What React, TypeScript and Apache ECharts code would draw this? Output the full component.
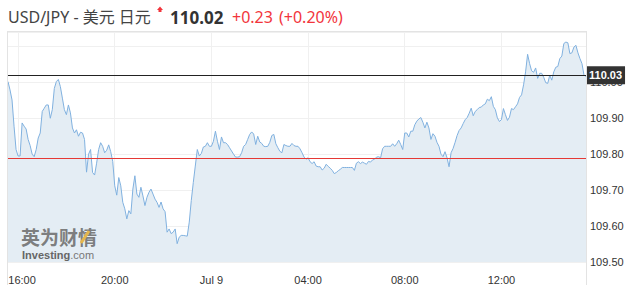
import React, { useEffect, useRef } from "react";
import * as echarts from "echarts";

// 5-minute USD/JPY quotes, Jul 8 15:35 -> Jul 9 15:30
const startMinute = 15 * 60 + 35;
const stepMinutes = 5;

const segA = [
  110.002, 109.979, 109.951, 109.878, 109.813, 109.795, 109.795, 109.887, 109.878, 109.870, 109.841, 109.824,
  109.800, 109.793, 109.813, 109.845, 109.859, 109.919, 109.928, 109.937, 109.937, 109.900, 109.924, 109.983,
  110.002, 110.008, 109.988, 109.956, 109.924, 109.910, 109.937, 109.915, 109.873, 109.859, 109.868, 109.850,
  109.861, 109.859, 109.841, 109.750, 109.800, 109.813, 109.749, 109.742, 109.775, 109.813, 109.832, 109.822,
];
const segB = [
  109.804, 109.811, 109.826, 109.807, 109.780, 109.712, 109.686, 109.735, 109.712, 109.666, 109.648, 109.620,
  109.643, 109.634, 109.703, 109.740, 109.689, 109.680, 109.708, 109.684, 109.657, 109.680, 109.694, 109.703,
  109.689, 109.675, 109.666, 109.652, 109.667, 109.648, 109.640, 109.583, 109.592, 109.579, 109.583, 109.592,
  109.551, 109.569, 109.574, 109.574, 109.573, 109.572, 109.611, 109.671, 109.721, 109.767, 109.813, 109.795,
];
const segC = [
  109.802, 109.820, 109.822, 109.832, 109.822, 109.822, 109.836, 109.864, 109.836, 109.813, 109.848, 109.832,
  109.832, 109.827, 109.818, 109.809, 109.800, 109.792, 109.792, 109.793, 109.804, 109.822, 109.827, 109.841,
  109.855, 109.862, 109.856, 109.827, 109.850, 109.834, 109.830, 109.822, 109.821, 109.822, 109.833, 109.852,
  109.855, 109.829, 109.818, 109.808, 109.804, 109.827, 109.824, 109.822, 109.822, 109.830, 109.824, 109.822,
];
const segD = [
  109.822, 109.815, 109.804, 109.792, 109.786, 109.790, 109.779, 109.774, 109.779, 109.767, 109.765, 109.765,
  109.756, 109.761, 109.772, 109.766, 109.761, 109.755, 109.746, 109.749, 109.754, 109.758, 109.763, 109.763,
  109.763, 109.763, 109.763, 109.763, 109.755, 109.775, 109.779, 109.774, 109.778, 109.775, 109.772, 109.780,
  109.778, 109.784, 109.786, 109.792, 109.793, 109.790, 109.815, 109.822, 109.822, 109.822, 109.822, 109.829,
];
const segE = [
  109.822, 109.829, 109.839, 109.827, 109.813, 109.859, 109.859, 109.848, 109.864, 109.864, 109.882, 109.892,
  109.898, 109.902, 109.889, 109.873, 109.889, 109.873, 109.841, 109.857, 109.850, 109.833, 109.822, 109.800,
  109.793, 109.807, 109.790, 109.765, 109.804, 109.816, 109.833, 109.852, 109.866, 109.873, 109.885, 109.896,
  109.902, 109.914, 109.928, 109.907, 109.919, 109.924, 109.930, 109.931, 109.937, 109.940, 109.953, 109.949,
];
const segF = [
  109.960, 109.933, 109.924, 109.901, 109.891, 109.896, 109.927, 109.910, 109.894, 109.903, 109.927, 109.924,
  109.932, 109.940, 109.958, 109.965, 109.993, 110.029, 110.078, 110.052, 110.032, 110.028, 110.040, 110.011,
  110.025, 110.025, 110.014, 109.999, 109.997, 110.020, 110.006, 110.029, 110.042, 110.044, 110.066, 110.073,
  110.108, 110.112, 110.110, 110.080, 110.082, 110.098, 110.103, 110.082, 110.066, 110.052, 110.020, 110.016,
];
const prices = [...segA, ...segB, ...segC, ...segD, ...segE, ...segF];

const xTickTimes = ["16:00", "20:00", "00:00", "04:00", "08:00", "12:00"];
const xTickNames = ["16:00", "20:00", "Jul 9", "04:00", "08:00", "12:00"];
const yTicks = [109.5, 109.6, 109.7, 109.8, 109.9, 110.0];

const prevClose = 109.79;
const lastLine = 110.02;
const lastLabel = "110.03";

const titleText = "USD/JPY - 美元 日元";
const priceText = "110.02";
const changeText = "+0.23";
const pctText = "(+0.20%)";

const pad = (n: number) => (n < 10 ? "0" + n : "" + n);
const categories = prices.map((_, i) => {
  const m = (startMinute + i * stepMinutes) % 1440;
  return pad(Math.floor(m / 60)) + ":" + pad(m % 60);
});

const isTick = (idx: number) => xTickTimes.indexOf(categories[idx]) >= 0;

export default function App() {
  const ref = useRef<HTMLDivElement>(null);
  useEffect(() => {
    if (!ref.current) return;
    const chart = echarts.init(ref.current, null, { renderer: "svg" });
    const fam = "'Noto Sans', 'Noto Sans CJK SC', sans-serif";
    const axisFont = "'Liberation Sans', Arial, sans-serif";
    chart.setOption({
      animation: false,
      backgroundColor: "#fff",
      grid: { left: 8, right: 53, top: 32, bottom: 22.5 },
      xAxis: {
        type: "category",
        boundaryGap: false,
        data: categories,
        axisLine: { show: false },
        axisTick: { show: false },
        axisLabel: {
          interval: (idx: number) => isTick(idx),
          formatter: (v: string) => {
            const k = xTickTimes.indexOf(v);
            if (k < 0) return "";
            return k === 0 ? "{f|" + xTickNames[k] + "}" : xTickNames[k];
          },
          rich: { f: { padding: [0, 0, 0, 8], color: "#333", fontSize: 11, fontFamily: axisFont } },
          color: "#333",
          fontSize: 11,
          fontFamily: axisFont,
          margin: 12,
        },
        splitLine: {
          show: true,
          interval: (idx: number) => isTick(idx),
          lineStyle: { color: "#f0f0f0", width: 1 },
        },
      },
      yAxis: {
        type: "value",
        position: "right",
        min: 109.5,
        max: 110.14,
        interval: 0.1,
        axisLine: { show: false },
        axisTick: { show: false },
        axisLabel: {
          formatter: (v: number) => {
            const hit = yTicks.find((t) => Math.abs(t - v) < 1e-6);
            return hit === undefined ? "" : hit.toFixed(2);
          },
          color: "#333",
          fontSize: 11,
          fontFamily: axisFont,
          margin: 4,
        },
        splitLine: { show: true, lineStyle: { color: "#f0f0f0", width: 1 } },
      },
      series: [
        {
          type: "line",
          data: prices,
          showSymbol: false,
          symbol: "none",
          lineStyle: { color: "#80b1df", width: 1 },
          areaStyle: { color: "#e4edf4", opacity: 1 },
          markLine: {
            silent: true,
            symbol: "none",
            data: [
              {
                yAxis: prevClose,
                lineStyle: { color: "#e53935", type: "solid", width: 1 },
                label: { show: false },
              },
              {
                yAxis: lastLine,
                lineStyle: { color: "#222", type: "solid", width: 1 },
                label: {
                  show: true,
                  position: "end",
                  formatter: lastLabel,
                  backgroundColor: "#333",
                  color: "#fff",
                  fontWeight: "bold",
                  fontSize: 11,
                  fontFamily: axisFont,
                  padding: [4, 3, 3, 3],
                  distance: 0,
                },
              },
            ],
          },
        },
      ],
      graphic: [
        { type: "line", shape: { x1: 8, y1: 31.5, x2: 586.5, y2: 31.5 }, style: { stroke: "#e3e3e3", lineWidth: 1 }, z: 50 },
        { type: "line", shape: { x1: 7.5, y1: 31, x2: 7.5, y2: 285 }, style: { stroke: "#e3e3e3", lineWidth: 1 }, z: 50 },
        { type: "line", shape: { x1: 586.5, y1: 31, x2: 586.5, y2: 285 }, style: { stroke: "#e3e3e3", lineWidth: 1 }, z: 50 },
        {
          type: "text", x: 8, y: 17,
          style: { text: titleText, fontSize: 16, fontFamily: fam, fill: "#444", verticalAlign: "middle" },
        },
        {
          type: "polygon",
          shape: { points: [[157, 10], [160, 6.5], [163, 10], [161.5, 10], [161.5, 12], [158.5, 12], [158.5, 10]] },
          style: { fill: "#f2353c" },
        },
        {
          type: "text", x: 170, y: 17,
          style: { text: priceText, fontSize: 17, fontWeight: "bold", fontFamily: fam, fill: "#333", verticalAlign: "middle" },
        },
        {
          type: "text", x: 232, y: 17,
          style: { text: changeText, fontSize: 16, fontFamily: fam, fill: "#f2353c", verticalAlign: "middle" },
        },
        {
          type: "text", x: 279, y: 17,
          style: { text: pctText, fontSize: 16, fontFamily: fam, fill: "#f2353c", verticalAlign: "middle" },
        },
        {
          type: "text", x: 21, y: 236.5, z: 60,
          style: { text: "英为财情", fontSize: 19, fontWeight: "bold", fontFamily: "'Noto Sans CJK SC', sans-serif", fill: "#6f6f6f", opacity: 0.9, verticalAlign: "middle" },
        },
        {
          type: "line", z: 61,
          shape: { x1: 81, y1: 243, x2: 89, y2: 231 },
          style: { stroke: "#e4b64c", lineWidth: 3 },
        },
        {
          type: "text", x: 22, y: 254.5, z: 60,
          style: {
            text: "{a|Investing}{b|.com}",
            verticalAlign: "middle",
            rich: {
              a: { fontSize: 11, fontWeight: "bold", fontFamily: axisFont, fill: "#666", color: "#666" },
              b: { fontSize: 11, fontFamily: axisFont, fill: "#777", color: "#777" },
            },
          },
        },
      ],
    });
    return () => chart.dispose();
  }, []);
  return (
    <div
      ref={ref}
      style={{ position: "fixed", left: 0, top: 0, width: 639, height: 285, background: "#fff" }}
    />
  );
}
